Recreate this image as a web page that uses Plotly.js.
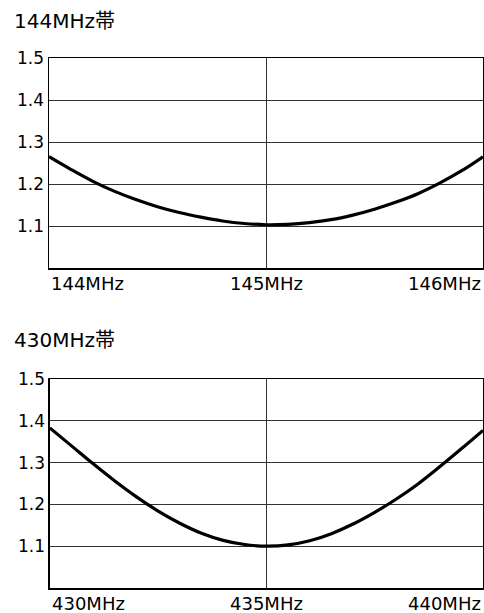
<!DOCTYPE html>
<html><head><meta charset="utf-8">
<script src="https://cdn.plot.ly/plotly-3.0.1.min.js"></script>
<style>body{margin:0;padding:0;background:#fff}#c{width:484px;height:613px}</style>
</head><body><div id="c"></div>
<script>
// 144MHz band
const freq144 = [144.0, 144.1, 144.2, 144.3, 144.4, 144.5, 144.6, 144.7, 144.8, 144.9, 145.0, 145.1, 145.2, 145.3, 145.4, 145.5, 145.6, 145.7, 145.8, 145.9, 146.0];
const swr144  = [1.265, 1.235, 1.207, 1.183, 1.163, 1.146, 1.132, 1.121, 1.112, 1.106, 1.103, 1.104, 1.108, 1.115, 1.126, 1.140, 1.157, 1.177, 1.202, 1.231, 1.265];
// 430MHz band
const freq430 = [430, 430.5, 431, 431.5, 432, 432.5, 433, 433.5, 434, 434.5, 435, 435.5, 436, 436.5, 437, 437.5, 438, 438.5, 439, 439.5, 440];
const swr430  = [1.383, 1.340, 1.297, 1.256, 1.218, 1.184, 1.155, 1.131, 1.114, 1.104, 1.100, 1.103, 1.113, 1.130, 1.153, 1.181, 1.213, 1.249, 1.290, 1.333, 1.377];
const yTicks = [1.1, 1.2, 1.3, 1.4, 1.5];
const yTickText = ["1.1", "1.2", "1.3", "1.4", "1.5"];
const xTicks144 = [144, 145, 146];
const xText144 = ["144MHz", "145MHz", "146MHz"];
const xTicks430 = [430, 435, 440];
const xText430 = ["430MHz", "435MHz", "440MHz"];
const titles = ["144MHz帯", "430MHz帯"];

const FONT = "DejaVu Sans, Noto Sans CJK JP, sans-serif";
const H = 613, L = 49, PW = 434;
const lineStyle = {color: '#000', width: 3.2, shape: 'spline'};

const traces = [
  {x: freq144, y: swr144, xaxis: 'x', yaxis: 'y', mode: 'lines', line: lineStyle, hoverinfo: 'skip'},
  {x: freq430, y: swr430, xaxis: 'x2', yaxis: 'y2', mode: 'lines', line: lineStyle, hoverinfo: 'skip'}
];

function xa(range, ticks, anchor, domainL) {
  return {range: range, tickvals: ticks, showticklabels: false, ticks: '', showgrid: true,
    gridcolor: '#333', gridwidth: 1, zeroline: false, showline: true, linecolor: '#000', linewidth: 1.5,
    mirror: true, anchor: anchor, domain: [domainL, 1], fixedrange: true};
}
function ya(domain, anchor) {
  return {range: [1.0, 1.5], tickvals: yTicks, ticktext: yTickText, showgrid: true, gridcolor: '#333',
    gridwidth: 1, zeroline: false, showline: true, linecolor: '#000', linewidth: 1.5, mirror: true,
    ticks: '', ticklen: 0, tickfont: {family: FONT, size: 17, color: '#000'}, anchor: anchor,
    domain: domain, fixedrange: true};
}

const annotations = [];
function addX(ticks, texts, xref, yref) {
  const anch = ['left', 'center', 'right'];
  ticks.forEach((t, i) => annotations.push({x: t, y: 0, xref: xref, yref: yref + ' domain', text: texts[i],
    showarrow: false, xanchor: anch[i], yanchor: 'top', yshift: -3,
    font: {family: FONT, size: 18, color: '#000'}}));
}
addX(xTicks144, xText144, 'x', 'y');
addX(xTicks430, xText430, 'x2', 'y2');
annotations.push({x: (12 - L) / PW, y: 1 - 21 / H, xref: 'paper', yref: 'paper', text: titles[0], showarrow: false,
  xanchor: 'left', yanchor: 'middle', font: {family: FONT, size: 20, color: '#000'}});
annotations.push({x: (12 - L) / PW, y: 1 - 340 / H, xref: 'paper', yref: 'paper', text: titles[1], showarrow: false,
  xanchor: 'left', yanchor: 'middle', font: {family: FONT, size: 20, color: '#000'}});

const layout = {
  width: 484, height: 613, margin: {l: L, r: 1, t: 0, b: 0},
  paper_bgcolor: '#fff', plot_bgcolor: '#fff', showlegend: false,
  xaxis: xa([144, 146], xTicks144, 'y', 0),
  yaxis: ya([1 - 268 / H, 1 - 58 / H], 'x'),
  xaxis2: xa([430, 440], xTicks430, 'y2', 0.002),
  yaxis2: ya([1 - 588 / H, 1 - 379 / H], 'x2'),
  annotations: annotations
};
Plotly.newPlot('c', traces, layout, {staticPlot: true, displayModeBar: false});
</script></body></html>
